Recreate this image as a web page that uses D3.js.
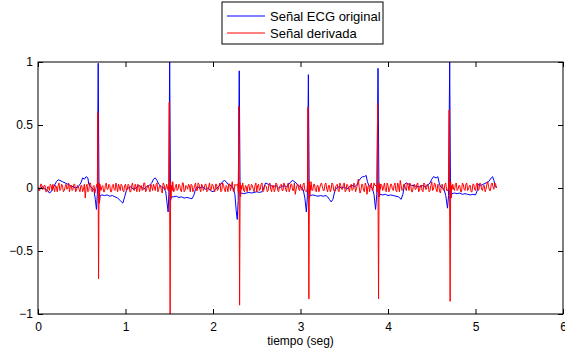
<!DOCTYPE html>
<meta charset="utf-8">
<style>
    body {
        margin: 0;
        background: #fff;
        font-family: "Liberation Sans", Arial, Helvetica, sans-serif;
    }
    .tick text { font-size: 12px; fill: #000; }
</style>
<body>
<script src="https://d3js.org/d3.v7.min.js"></script>
<script>

// tick values
var xTicks = [0, 1, 2, 3, 4, 5, 6];
var yTicks = [-1, -0.5, 0, 0.5, 1];

var legendLabels = ["Señal ECG original", "Señal derivada"];

// original ECG, [t (s), amplitude]
var ecgPoints = [
  [0,.00],[.02,-.01],[.05,.01],[.08,-.01],[.11,-.02],[.13,-.04],[.15,-.03],[.18,.01],[.21,.05],[.23,.065],
  [.25,.06],[.28,.05],[.31,.04],[.34,.03],[.37,.02],[.40,.01],[.43,.00],[.46,.01],[.49,.04],[.51,.08],
  [.53,.07],[.55,.09],[.57,.08],[.58,.03],[.60,.01],[.62,.00],[.64,-.02],[.655,-.09],[.668,-.17],[.678,-.05],
  [.688,.99],[.698,-.12],[.705,-.1],[.71,-.06],[.73,-.055],[.76,-.06],[.79,-.055],[.82,-.065],[.85,-.06],[.88,-.07],
  [.91,-.08],[.94,-.1],[.97,-.12],[.99,-.07],[1.01,-.02],[1.03,.00],
  [1.06,.01],[1.09,-.01],[1.12,.00],[1.15,.02],[1.18,.01],[1.21,-.01],[1.24,.01],[1.27,.02],[1.30,.04],[1.32,.07],
  [1.34,.08],[1.36,.06],[1.38,.03],[1.41,.01],[1.44,.00],[1.46,-.03],[1.475,-.12],[1.487,-.19],[1.495,-.05],[1.505,1.0],
  [1.515,-.1],[1.525,-.07],[1.55,-.07],[1.58,-.065],[1.61,-.075],[1.64,-.07],[1.67,-.08],[1.70,-.075],[1.73,-.08],[1.76,-.085],
  [1.78,-.06],[1.80,-.01],[1.82,.01],
  [1.85,.00],[1.88,.01],[1.91,-.01],[1.94,.00],[1.97,-.02],[2.00,-.03],[2.03,-.01],[2.06,.01],[2.09,.03],[2.11,.05],
  [2.13,.06],[2.15,.05],[2.17,.03],[2.19,.03],[2.21,.01],[2.23,.00],[2.25,-.05],[2.265,-.18],[2.277,-.25],[2.288,-.1],
  [2.30,.93],[2.31,-.06],[2.32,-.04],[2.35,-.045],[2.38,-.04],[2.41,-.035],[2.44,-.04],[2.47,-.035],[2.50,-.03],[2.53,-.035],
  [2.56,-.03],[2.58,.00],[2.60,.04],
  [2.63,.03],[2.66,.02],[2.69,.01],[2.72,.02],[2.75,.00],[2.78,.01],[2.81,.02],[2.84,.01],[2.87,.03],[2.89,.05],
  [2.91,.06],[2.93,.05],[2.95,.04],[2.97,.02],[3.00,.01],[3.03,-.01],[3.05,-.08],[3.067,-.19],[3.078,-.08],[3.09,.90],
  [3.10,-.08],[3.11,-.06],[3.14,-.055],[3.17,-.06],[3.20,-.065],[3.23,-.06],[3.26,-.065],[3.29,-.06],[3.31,-.07],[3.33,-.09],
  [3.35,-.11],[3.37,-.09],[3.39,-.03],[3.41,.00],
  [3.44,.01],[3.47,.00],[3.50,.01],[3.53,-.01],[3.56,.01],[3.59,.02],[3.62,.01],[3.65,.03],[3.67,.06],[3.69,.08],
  [3.71,.09],[3.73,.09],[3.75,.10],[3.765,.05],[3.78,.02],[3.80,.01],[3.82,.00],[3.84,-.05],[3.858,-.17],[3.872,-.05],
  [3.886,.95],[3.897,-.07],[3.91,-.05],[3.94,-.055],[3.97,-.05],[4.00,-.06],[4.03,-.055],[4.06,-.06],[4.09,-.065],[4.12,-.07],
  [4.15,-.09],[4.17,-.05],[4.19,.03],[4.21,.04],
  [4.24,.03],[4.27,.02],[4.30,.02],[4.33,.01],[4.36,.01],[4.39,.02],[4.42,.01],[4.45,.02],[4.48,.04],[4.50,.07],
  [4.52,.09],[4.55,.08],[4.57,.09],[4.585,.04],[4.60,.01],[4.62,.00],[4.64,-.01],[4.66,-.06],[4.68,-.16],[4.692,-.06],
  [4.705,1.0],[4.715,-.08],[4.73,-.045],[4.76,-.04],[4.79,-.045],[4.82,-.04],[4.85,-.05],[4.88,-.045],[4.91,-.05],[4.94,-.055],
  [4.97,-.05],[5.00,-.055],[5.02,-.02],[5.03,.03],[5.06,.02],[5.09,.03],[5.12,.04],[5.15,.05],[5.18,.08],[5.195,.09],
  [5.21,.06],[5.225,.02],[5.24,.00]
];

// derivative baseline, samples at t = 0, 0.02, 0.04 ... 5.24 s
var derivStep = 0.02;
var derivEven = [
  .01,-.02,.03,-.01,.02,-.03,.01,.03,-.02,.00,.02,-.03,.04,-.01,.02,-.02,.03,.00,-.03,.02,-.01,.03,-.02,.01,-.03,
  .02,-.01,-.08,.03,-.02,.04,-.03,.02,-.06,.03,.00,-.02,.02,-.03,.04,-.01,.02,-.03,.03,-.02,.01,.03,-.02,.02,-.03,
  .03,-.01,.02,-.03,.04,-.02,.01,.03,-.03,.02,-.01,.04,-.02,.02,-.03,.01,.03,-.02,.04,-.01,.02,-.04,.03,-.01,.02,
  .01,-.03,.05,-.02,.03,-.01,.02,-.03,.04,-.02,.01,.03,-.03,.02,-.01,.04,-.02,.03,-.03,.02,.00,.03,-.02,.04,-.01,
  .02,-.03,.03,-.01,.04,-.02,.02,-.03,.01,.03,-.02,.05,-.03,.02,-.01,.03,-.02,.04,-.03,.01,.02,-.02,.03,-.01,.02,
  -.03,.03,-.01,.04,-.02,.02,-.03,.03,-.01,.02,-.03,.04,-.02,.01,.03,-.02,.02,-.03,.04,-.01,.03,-.02,-.05,.02,-.01,
  .03,-.02,.04,-.03,.02,-.01,.05,-.02,.03,-.03,.02,.00,.04,-.02,.03,-.01,.02,-.03,.04,-.02,.01,.03,-.03,.02,-.01,
  .04,-.02,.02,-.03,.03,-.01,.02,.00,.07,-.04,.03,-.02,.04,-.05,.02,.03,-.02,.04,-.03,.02,-.01,.03,-.02,.04,-.03,
  .02,-.01,.03,-.02,.04,-.03,.02,.06,-.02,.03,-.01,.04,-.02,.02,-.03,.03,-.01,.04,-.02,.02,-.03,.03,-.01,.02,-.02,
  .05,-.01,.03,-.03,.02,-.04,.03,-.02,.04,-.01,.02,-.03,.03,-.02,.04,-.01,.02,-.03,.03,-.02,.04,-.01,.02,-.03,.03,
  -.02,.04,-.01,.03,-.02,.02,-.01,.05,-.02,.03,.01,.04,.00
];
// derivative baseline, samples at t = 0.01, 0.03 ... 5.23 s
var derivOdd = [
  -.02,.03,-.01,.02,-.03,.01,-.02,.02,.03,-.03,.01,.02,-.02,.03,-.03,.01,-.01,.04,.02,-.02,.03,-.03,.02,-.01,.02,
  -.03,.03,.01,-.03,.04,-.02,.01,-.04,.02,-.02,.03,.01,-.03,.02,-.01,.03,-.03,.02,-.01,.04,-.03,.01,.03,-.02,.02,
  -.02,.03,-.03,.02,-.01,.03,-.03,.02,.01,-.02,.04,-.03,.02,-.01,.03,-.02,.01,.03,-.03,.02,-.02,.04,-.01,.03,-.03,
  .02,.04,-.03,.01,-.02,.03,-.02,.04,-.03,.02,-.01,.02,.03,-.03,.02,-.02,.04,-.01,.03,-.02,.03,-.03,.01,-.02,.03,
  -.01,.03,-.02,.02,-.03,.04,-.01,.02,-.03,.03,.01,-.02,.03,-.03,.02,-.01,.04,-.02,.02,-.03,.03,-.01,.02,-.03,.04,
  .02,-.02,.03,-.03,.02,.01,-.02,.04,-.03,.02,-.01,.03,-.03,.02,-.02,.04,-.01,.02,-.03,.03,-.02,.04,-.01,.03,-.02,
  -.01,.03,-.02,.02,-.03,.04,-.01,.03,-.02,.02,-.03,.03,.01,-.02,.04,-.03,.02,-.01,.03,-.03,.02,-.02,.04,-.01,.03,
  -.03,.03,-.01,.02,-.02,.04,-.03,.02,.01,-.02,.03,-.03,.02,.01,-.03,.04,-.01,.02,-.02,.03,-.03,.02,.01,-.02,.04,
  -.03,.03,-.01,.02,-.02,.04,-.03,.02,-.01,.03,-.02,.02,.04,-.03,.02,-.01,.03,-.03,.02,-.02,.04,-.01,.03,-.03,.02,
  -.02,.04,-.01,.03,-.03,.02,-.01,.03,-.02,.04,-.03,.02,-.01,.03,-.02,.02,-.03,.04,-.01,.03,-.02,.02,-.03,.03,-.01,
  .03,-.02,.04,-.01,.02,-.03,.03,.01,-.02,.04,-.01,.03
];

// R-peak instants and the derivative spikes around them
var rPeaks = [0.688, 1.505, 2.300, 3.090, 3.886, 4.705];
var derivSpikes = [
  [0.672,.03],[0.680,.02],[0.684,.60],[0.692,-.72],[0.698,.04],[0.702,-.12],[0.708,.03],[0.716,-.01],
  [1.488,-.02],[1.496,.03],[1.500,.68],[1.510,-1.0],[1.516,.05],[1.520,-.08],[1.526,.02],[1.534,-.02],
  [2.282,.03],[2.290,-.04],[2.295,.65],[2.304,-.93],[2.310,.04],[2.315,-.07],[2.322,.02],[2.328,-.01],
  [3.072,-.03],[3.080,.02],[3.085,.64],[3.096,-.88],[3.102,.05],[3.107,-.06],[3.114,.02],[3.118,-.02],
  [3.868,.02],[3.876,-.03],[3.881,.67],[3.892,-.88],[3.898,.04],[3.903,-.07],[3.910,.03],[3.914,-.01],
  [4.686,-.02],[4.694,.03],[4.699,.62],[4.710,-.90],[4.716,.05],[4.721,-.08],[4.728,.02],[4.732,-.01]
];

var W = 565, H = 351;
var margin = {top: 62, right: 2, bottom: 37, left: 38},
    width = W - margin.left - margin.right,
    height = H - margin.top - margin.bottom;

var svg = d3.select("body").append("svg")
    .attr("width", W)
    .attr("height", H);

var g = svg.append("g")
    .attr("transform", "translate(" + margin.left + "," + margin.top + ")");

var x = d3.scaleLinear().domain([0, 6]).range([0, width]);
var y = d3.scaleLinear().domain([-1, 1]).range([height, 0]);

// derivative series: baseline outside the QRS windows + spikes
var base = derivEven.map(function(v, i) { return [i * derivStep, v]; })
    .concat(derivOdd.map(function(v, i) { return [i * derivStep + derivStep / 2, v]; }));
var deriv = base
    .filter(function(d) {
      return rPeaks.every(function(r) { return Math.abs(d[0] - r) >= 0.03; });
    })
    .concat(derivSpikes)
    .sort(function(a, b) { return a[0] - b[0]; });

var line = d3.line()
    .x(function(d) { return x(d[0]); })
    .y(function(d) { return y(d[1]); });

g.append("defs").append("clipPath").attr("id", "clip")
  .append("rect").attr("width", width).attr("height", height);

var plot = g.append("g").attr("clip-path", "url(#clip)");

plot.append("path")
    .datum(ecgPoints)
    .attr("fill", "none")
    .attr("stroke", "#0000ff")
    .attr("stroke-width", 1)
    .attr("d", line);

plot.append("path")
    .datum(deriv)
    .attr("fill", "none")
    .attr("stroke", "#ff0000")
    .attr("stroke-width", 1)
    .attr("d", line);

// axes, MATLAB style: ticks inside on all four sides
var fmt = d3.format("");
var tick = 5;

g.append("g")
    .attr("transform", "translate(0," + height + ")")
    .call(d3.axisBottom(x).tickValues(xTicks).tickFormat(fmt).tickSize(-tick).tickPadding(8));
g.append("g")
    .call(d3.axisTop(x).tickValues(xTicks).tickFormat("").tickSize(-tick));
g.append("g")
    .call(d3.axisLeft(y).tickValues(yTicks).tickFormat(fmt).tickSize(-tick).tickPadding(5));
g.append("g")
    .attr("transform", "translate(" + width + ",0)")
    .call(d3.axisRight(y).tickValues(yTicks).tickFormat("").tickSize(-tick));

g.selectAll(".domain").remove();
g.selectAll(".tick line").attr("stroke", "#000");

g.append("rect")
    .attr("width", width)
    .attr("height", height)
    .attr("fill", "none")
    .attr("stroke", "#000")
    .attr("stroke-width", 1);

g.append("text")
    .attr("x", width / 2)
    .attr("y", height + 31)
    .attr("text-anchor", "middle")
    .style("font-size", "12px")
    .text("tiempo (seg)");

// legend
var lg = svg.append("g").attr("transform", "translate(222,2)");
lg.append("rect")
    .attr("width", 161)
    .attr("height", 42)
    .attr("fill", "#fff")
    .attr("stroke", "#000")
    .attr("stroke-width", 1);

var colors = ["#0000ff", "#ff0000"];
legendLabels.forEach(function(lab, i) {
  var yy = 14 + i * 17;
  lg.append("line")
      .attr("x1", 5).attr("x2", 43)
      .attr("y1", yy).attr("y2", yy)
      .attr("stroke", colors[i]);
  lg.append("text")
      .attr("x", 48)
      .attr("y", yy + 4.5)
      .style("font-size", "13px")
      .text(lab);
});

</script>
</body>
